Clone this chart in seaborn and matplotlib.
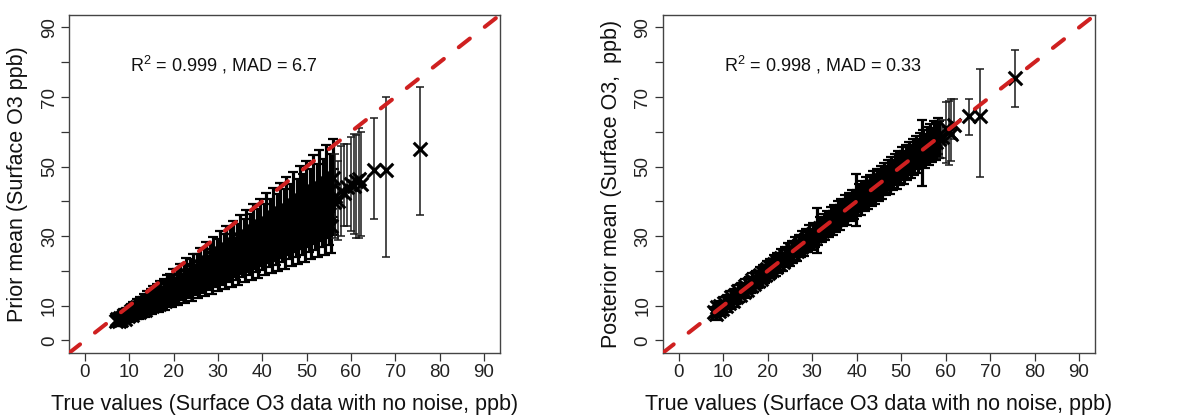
import numpy as np
import pandas as pd
import matplotlib
matplotlib.use("Agg")
import matplotlib.pyplot as plt
import seaborn as sns

# ---------------- Prior panel data (true value, prior mean, error half-width) ----------------
prior_x = [
    7.0, 8.5, 10.0, 11.5, 13.0, 14.5, 16.0, 17.5, 19.0, 20.5, 22.0, 23.5, 25.0, 26.5, 28.0, 29.5, 31.0,
    32.5, 34.0, 35.5, 37.0, 38.5, 40.0, 41.5, 43.0, 44.5, 46.0, 47.5, 49.0, 50.5, 52.0, 53.5, 55.0,
    7.3, 8.8, 10.3, 11.8, 13.3, 14.8, 16.3, 17.8, 19.3, 20.8, 22.3, 23.8, 25.3, 26.8, 28.3, 29.8, 31.3,
    32.8, 34.3, 35.8, 37.3, 38.8, 40.3, 41.8, 43.3, 44.8, 46.3, 47.8, 49.3, 50.8, 52.3, 53.8, 55.3,
    7.6, 9.1, 10.6, 12.1, 13.6, 15.1, 16.6, 18.1, 19.6, 21.1, 22.6, 24.1, 25.6, 27.1, 28.6, 30.1, 31.6,
    33.1, 34.6, 36.1, 37.6, 39.1, 40.6, 42.1, 43.6, 45.1, 46.6, 48.1, 49.6, 51.1, 52.6, 54.1, 55.6,
    7.9, 9.4, 10.9, 12.4, 13.9, 15.4, 16.9, 18.4, 19.9, 21.4, 22.9, 24.4, 25.9, 27.4, 28.9, 30.4, 31.9,
    33.4, 34.9, 36.4, 37.9, 39.4, 40.9, 42.4, 43.9, 45.4, 46.9, 48.4, 49.9, 51.4, 52.9, 54.4, 55.9,
    8.2, 9.7, 11.2, 12.7, 14.2, 15.7, 17.2, 18.7, 20.2, 21.7, 23.2, 24.7, 26.2, 27.7, 29.2, 30.7, 32.2,
    33.7, 35.2, 36.7, 38.2, 39.7, 41.2, 42.7, 44.2, 45.7, 47.2, 48.7, 50.2, 51.7, 53.2, 54.7, 56.2,
]
prior_y = [
    5.7, 6.7, 7.6, 8.6, 9.5, 10.5, 11.5, 12.4, 13.4, 14.3, 15.3, 16.2, 17.2, 18.1, 19.1, 20.1, 21.0,
    22.0, 22.9, 23.9, 24.8, 25.8, 26.8, 27.7, 28.7, 29.6, 30.6, 31.5, 32.5, 33.4, 34.4, 35.4, 36.3,
    6.2, 7.3, 8.5, 9.6, 10.8, 12.0, 13.1, 14.3, 15.4, 16.6, 17.7, 18.9, 20.1, 21.2, 22.4, 23.5, 24.7,
    25.9, 27.0, 28.2, 29.3, 30.5, 31.6, 32.8, 34.0, 35.1, 36.3, 37.4, 38.6, 39.8, 40.9, 42.1, 43.2,
    5.5, 6.3, 7.2, 8.1, 8.9, 9.8, 10.6, 11.5, 12.3, 13.2, 14.0, 14.9, 15.8, 16.6, 17.5, 18.3, 19.2,
    20.0, 20.9, 21.7, 22.6, 23.4, 24.3, 25.2, 26.0, 26.9, 27.7, 28.6, 29.4, 30.3, 31.1, 32.0, 32.9,
    6.4, 7.6, 8.9, 10.2, 11.4, 12.7, 13.9, 15.2, 16.5, 17.7, 19.0, 20.2, 21.5, 22.8, 24.0, 25.3, 26.5,
    27.8, 29.1, 30.3, 31.6, 32.8, 34.1, 35.4, 36.6, 37.9, 39.1, 40.4, 41.7, 42.9, 44.2, 45.4, 46.7,
    5.9, 7.0, 8.1, 9.1, 10.2, 11.2, 12.3, 13.3, 14.4, 15.5, 16.5, 17.6, 18.6, 19.7, 20.7, 21.8, 22.9,
    23.9, 25.0, 26.0, 27.1, 28.1, 29.2, 30.3, 31.3, 32.4, 33.4, 34.5, 35.5, 36.6, 37.7, 38.7, 39.8,
]
prior_err = [
    1.4, 1.6, 1.8, 2.1, 2.3, 2.5, 2.8, 3.0, 3.2, 3.4, 3.7, 3.9, 4.1, 4.3, 4.6, 4.8, 5.0,
    5.3, 5.5, 5.7, 6.0, 6.2, 6.4, 6.6, 6.9, 7.1, 7.3, 7.6, 7.8, 8.0, 8.3, 8.5, 8.7,
    1.5, 1.8, 2.0, 2.3, 2.6, 2.9, 3.1, 3.4, 3.7, 4.0, 4.2, 4.5, 4.8, 5.1, 5.4, 5.6, 5.9,
    6.2, 6.5, 6.8, 7.0, 7.3, 7.6, 7.9, 8.2, 8.4, 8.7, 9.0, 9.3, 9.6, 9.8, 10.1, 10.4,
    1.3, 1.4, 1.7, 1.9, 2.0, 2.3, 2.4, 2.6, 2.8, 3.0, 3.2, 3.4, 3.6, 3.8, 4.0, 4.2, 4.4,
    4.6, 4.8, 5.0, 5.2, 5.4, 5.6, 5.8, 6.0, 6.2, 6.4, 6.6, 6.8, 7.0, 7.2, 7.4, 7.6,
    1.5, 1.8, 2.1, 2.4, 2.7, 3.0, 3.3, 3.6, 4.0, 4.2, 4.6, 4.8, 5.2, 5.5, 5.8, 6.1, 6.4,
    6.7, 7.0, 7.3, 7.6, 7.9, 8.2, 8.5, 8.8, 9.1, 9.4, 9.7, 10.0, 10.3, 10.6, 10.9, 11.2,
    1.4, 1.7, 1.9, 2.2, 2.4, 2.7, 3.0, 3.2, 3.5, 3.7, 4.0, 4.2, 4.5, 4.7, 5.0, 5.2, 5.5,
    5.7, 6.0, 6.2, 6.5, 6.7, 7.0, 7.3, 7.5, 7.8, 8.0, 8.3, 8.5, 8.8, 9.0, 9.3, 9.6,
]
prior_tail_x = [56.3, 57.0, 57.8, 58.5, 59.2, 60.0, 60.6, 61.2, 61.8, 62.3, 65.2, 67.8, 75.6]
prior_tail_y = [41.5, 40.0, 43.0, 42.5, 44.0, 45.0, 44.5, 46.0, 46.5, 45.0, 49.0, 49.0, 55.0]
prior_tail_lo = [12.0, 11.0, 13.0, 9.5, 11.0, 13.5, 14.0, 16.5, 17.0, 15.0, 14.0, 25.0, 19.0]
prior_tail_hi = [12.0, 11.5, 13.0, 14.0, 12.5, 13.5, 15.0, 13.0, 14.5, 15.0, 15.0, 21.0, 18.0]

# ---------------- Posterior panel data ----------------
post_x = [
    7.9, 8.7, 9.4, 10.2, 11.0, 11.8, 12.6, 13.4,
    14.2, 15.0, 15.8, 16.6, 17.4, 18.2, 19.0, 19.8,
    20.6, 21.4, 22.2, 23.0, 23.8, 24.6, 25.4, 26.2,
    27.0, 27.8, 28.6, 29.4, 30.2, 31.0, 31.8, 32.6,
    33.4, 34.2, 35.0, 35.8, 36.6, 37.4, 38.2, 39.0,
    39.8, 40.6, 41.4, 42.2, 43.0, 43.8, 44.6, 45.4,
    46.2, 47.0, 47.8, 48.6, 49.4, 50.2, 51.0, 51.8,
    52.6, 53.4, 54.2, 55.0, 55.8, 56.6, 57.4, 58.2,
    8.3, 9.1, 9.8, 10.6, 11.4, 12.2, 13.0, 13.8,
    14.6, 15.4, 16.2, 17.0, 17.8, 18.6, 19.4, 20.2,
    21.0, 21.8, 22.6, 23.4, 24.2, 25.0, 25.8, 26.6,
    27.4, 28.2, 29.0, 29.8, 30.6, 31.4, 32.2, 33.0,
    33.8, 34.6, 35.4, 36.2, 37.0, 37.8, 38.6, 39.4,
    40.2, 41.0, 41.8, 42.6, 43.4, 44.2, 45.0, 45.8,
    46.6, 47.4, 48.2, 49.0, 49.8, 50.6, 51.4, 52.2,
    53.0, 53.8, 54.6, 55.4, 56.2, 57.0, 57.8, 58.6,
]
post_y = [
    8.3, 9.5, 9.9, 10.9, 11.5, 12.5, 13.1, 14.1,
    14.7, 15.7, 16.3, 17.3, 17.9, 18.9, 19.5, 20.5,
    21.1, 22.1, 22.7, 23.7, 24.3, 25.3, 25.9, 26.9,
    27.5, 28.5, 29.1, 30.1, 30.7, 31.7, 32.3, 33.3,
    33.9, 34.9, 35.5, 36.5, 37.1, 38.1, 38.7, 39.7,
    40.3, 41.3, 41.9, 42.9, 43.5, 44.5, 45.1, 46.1,
    46.7, 47.7, 48.3, 49.3, 49.9, 50.9, 51.5, 52.5,
    53.1, 54.1, 54.7, 55.7, 56.3, 57.3, 57.9, 58.9,
    7.5, 8.5, 9.0, 9.8, 10.8, 11.4, 12.4, 13.0,
    14.0, 14.6, 15.6, 16.2, 17.2, 17.8, 18.8, 19.4,
    20.4, 21.0, 22.0, 22.6, 23.6, 24.2, 25.2, 25.8,
    26.8, 27.4, 28.4, 29.0, 30.0, 30.6, 31.6, 32.2,
    33.2, 33.8, 34.8, 35.4, 36.4, 37.0, 38.0, 38.6,
    39.6, 40.2, 41.2, 41.8, 42.8, 43.4, 44.4, 45.0,
    46.0, 46.6, 47.6, 48.2, 49.2, 49.8, 50.8, 51.4,
    52.4, 53.0, 54.0, 54.6, 55.6, 56.2, 57.2, 57.8,
]
post_err = [
    1.4, 1.4, 1.6, 1.6, 1.7, 1.7, 1.8, 1.8,
    1.9, 1.9, 2.0, 2.0, 2.2, 2.2, 2.3, 2.3,
    2.4, 2.4, 2.5, 2.5, 2.6, 2.6, 2.8, 2.8,
    2.9, 2.9, 3.0, 3.0, 3.1, 6.5, 3.2, 3.2,
    3.4, 3.4, 3.5, 3.5, 3.6, 3.6, 3.7, 3.7,
    7.5, 3.8, 4.0, 4.0, 4.1, 4.1, 4.2, 4.2,
    4.3, 4.3, 4.4, 4.4, 4.6, 4.6, 4.7, 4.7,
    4.8, 4.8, 4.9, 4.9, 5.0, 5.0, 5.2, 5.2,
    1.6, 1.4, 1.6, 1.7, 1.7, 1.8, 1.8, 1.9,
    1.9, 2.0, 2.0, 2.2, 2.2, 2.3, 2.3, 2.4,
    2.4, 2.5, 2.5, 2.6, 2.6, 2.8, 2.8, 2.9,
    2.9, 3.0, 3.0, 3.1, 3.1, 3.2, 3.2, 3.4,
    3.4, 3.5, 3.5, 3.6, 3.6, 3.7, 3.7, 3.8,
    3.8, 4.0, 4.0, 4.1, 4.1, 4.2, 4.2, 4.3,
    4.3, 4.4, 4.4, 4.6, 4.6, 4.7, 4.7, 4.8,
    4.8, 4.9, 9.5, 4.9, 5.0, 5.0, 5.2, 5.2,
]
post_tail_x = [59.3, 60.2, 60.8, 61.3, 62.0, 65.2, 67.8, 75.6]
post_tail_y = [58.5, 61.0, 60.0, 59.5, 62.0, 64.5, 64.5, 75.5]
post_tail_lo = [6.0, 10.0, 9.5, 8.0, 4.0, 5.5, 17.5, 8.5]
post_tail_hi = [5.0, 7.5, 9.0, 10.0, 7.5, 5.0, 13.5, 8.0]

x_ticks = [0, 10, 20, 30, 40, 50, 60, 70, 80, 90]
y_ticks = [0, 10, 20, 30, 40, 50, 60, 70, 80, 90]
y_tick_labels = ["0", "10", "", "30", "", "50", "", "70", "", "90"]

x_label = "True values (Surface O3 data with no noise, ppb)"
y_labels = ["Prior mean (Surface O3 ppb)", "Posterior mean (Surface O3,  ppb)"]
stats_text = [r"R$^2$ = 0.999 , MAD = 6.7", r"R$^2$ = 0.998 , MAD = 0.33"]

sns.set_style("white")
plt.rcParams["font.family"] = ["Liberation Sans", "DejaVu Sans"]
plt.rcParams["mathtext.fontset"] = "custom"
plt.rcParams["mathtext.rm"] = "Liberation Sans"

fig = plt.figure(figsize=(11.79, 4.16), dpi=100)
ax1 = fig.add_axes([0.0585, 0.1514, 0.3655, 0.8126])
ax2 = fig.add_axes([0.562, 0.1514, 0.3668, 0.8126])

panels = [
    (ax1, prior_x, prior_y, prior_err, prior_tail_x, prior_tail_y, prior_tail_lo, prior_tail_hi),
    (ax2, post_x, post_y, post_err, post_tail_x, post_tail_y, post_tail_lo, post_tail_hi),
]

for i, (ax, xs, ys, es, tx, ty, tlo, thi) in enumerate(panels):
    df = pd.DataFrame({"true": xs + tx, "est": ys + ty,
                       "lo": es + tlo, "hi": es + thi})
    dense = df.iloc[:len(xs)]
    sparse = df.iloc[len(xs):]
    ax.errorbar(dense["true"], dense["est"], yerr=[dense["lo"], dense["hi"]], fmt="none",
                ecolor="black", elinewidth=2.3, capsize=3.6, capthick=1.6, zorder=2)
    ax.errorbar(sparse["true"], sparse["est"], yerr=[sparse["lo"], sparse["hi"]], fmt="none",
                ecolor="#1a1a1a", elinewidth=1.1, capsize=3.2, capthick=1.1, zorder=2)
    sns.scatterplot(data=df, x="true", y="est", marker="x", s=95, color="black",
                    linewidth=2.2, ax=ax, zorder=3, legend=False)
    ax.axline((0, 0), slope=1, color="#CF2020", lw=2.9,
              linestyle=(0, (3.5, 4.7)), dash_capstyle="round", zorder=4)
    ax.set_xlim(-3.6, 93.6)
    ax.set_ylim(-3.6, 93.6)
    ax.set_xticks(x_ticks)
    ax.set_xticklabels([str(t) for t in x_ticks])
    ax.set_yticks(y_ticks)
    ax.set_yticklabels(y_tick_labels, rotation=90, va="center")
    ax.tick_params(axis="both", direction="out", length=5.5, width=0.9,
                   color="#333333", labelsize=13.5, labelcolor="#222222", pad=2.5,
                   bottom=True, left=True)
    for sp in ax.spines.values():
        sp.set_color("#444444")
        sp.set_linewidth(1.0)
    ax.set_xlabel(x_label, fontsize=15.5, color="#111111", labelpad=9)
    ax.set_ylabel(y_labels[i], fontsize=15.5, color="#111111", labelpad=9)
    ax.text(10.1, 79.2, stats_text[i], fontsize=13, color="#111111",
            ha="left", va="center")

fig.savefig("out.png", dpi=100)
